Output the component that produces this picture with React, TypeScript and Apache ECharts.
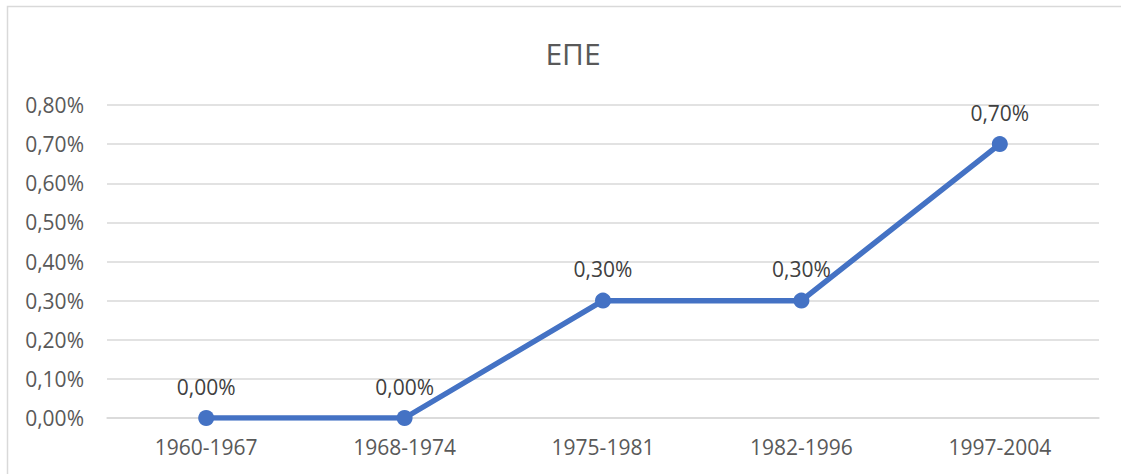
import React, { useEffect, useRef } from "react";
import * as echarts from "echarts";

const categories = ["1960-1967", "1968-1974", "1975-1981", "1982-1996", "1997-2004"];
const values = [0.0, 0.0, 0.3, 0.3, 0.7];
const yTicks = [0, 0.1, 0.2, 0.3, 0.4, 0.5, 0.6, 0.7, 0.8];
const title = "ΕΠΕ";

const fmt = (v: number) => v.toFixed(2).replace(".", ",") + "%";

export default function App() {
  const ref = useRef<HTMLDivElement>(null);
  useEffect(() => {
    document.body.style.margin = "0";
    const chart = echarts.init(ref.current!, null, { renderer: "svg" });
    const font = "'Open Sans', sans-serif";
    chart.setOption({
      animation: false,
      backgroundColor: "#ffffff",
      title: {
        text: title,
        left: 568,
        top: 33,
        textAlign: "center",
        textStyle: { color: "#595959", fontSize: 30, fontWeight: "normal", fontFamily: font },
      },
      graphic: [
        {
          type: "rect",
          shape: { x: 7.5, y: 6.5, width: 1140, height: 500 },
          style: { fill: "none", stroke: "#d9d9d9", lineWidth: 1.5 },
          silent: true,
        },
      ],
      grid: { left: 107, right: 22, top: 105, bottom: 56 },
      xAxis: {
        type: "category",
        data: categories,
        boundaryGap: true,
        axisLine: { show: true, lineStyle: { color: "#d9d9d9", width: 1.5 } },
        axisTick: { show: false },
        axisLabel: { color: "#595959", fontSize: 21, fontFamily: font, margin: 18 },
      },
      yAxis: {
        type: "value",
        min: yTicks[0],
        max: yTicks[yTicks.length - 1],
        interval: 0.1,
        axisLine: { show: false },
        axisTick: { show: false },
        splitLine: { lineStyle: { color: "#d9d9d9", width: 1.5 } },
        axisLabel: {
          color: "#595959",
          fontSize: 21,
          fontFamily: font,
          margin: 23,
          formatter: (v: number) => fmt(v),
        },
      },
      series: [
        {
          type: "line",
          data: values,
          lineStyle: { color: "#4472C4", width: 5.5 },
          itemStyle: { color: "#4472C4" },
          symbol: "circle",
          symbolSize: 16,
          label: {
            show: true,
            position: "top",
            distance: 13,
            color: "#404040",
            fontSize: 21,
            fontFamily: font,
            formatter: (p: any) => fmt(p.value),
          },
        },
      ],
    });
    return () => chart.dispose();
  }, []);
  return (
    <div
      ref={ref}
      style={{ position: "fixed", left: 0, top: 0, width: 1121, height: 474 }}
    />
  );
}
